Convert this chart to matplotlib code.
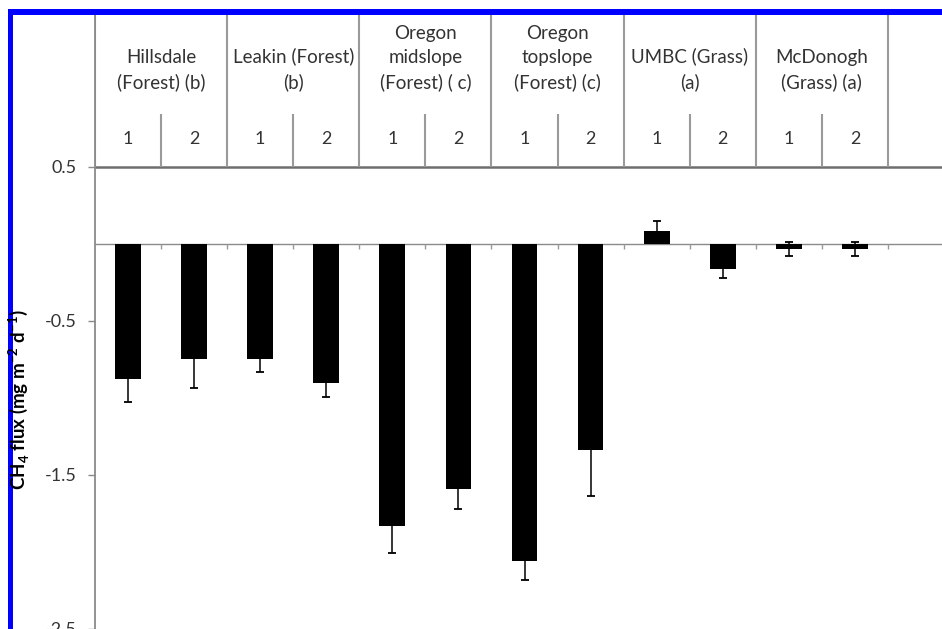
import matplotlib
matplotlib.use("Agg")
import matplotlib.pyplot as plt
from matplotlib.patches import Rectangle


plt.rcParams["font.family"] = ["Lato", "DejaVu Sans"]
plt.rcParams["axes.unicode_minus"] = False
plt.rcParams["mathtext.fontset"] = "custom"
plt.rcParams["mathtext.rm"] = "Lato:bold"
plt.rcParams["mathtext.bf"] = "Lato:bold"


SITES = [
    "Hillsdale\n(Forest) (b)",
    "Leakin (Forest)\n(b)",
    "Oregon\nmidslope\n(Forest) ( c)",
    "Oregon\ntopslope\n(Forest) (c)",
    "UMBC (Grass)\n(a)",
    "McDonogh\n(Grass) (a)",
]
PERIODS = ["1", "2"]

# mean CH4 flux per site and period, with standard errors
FLUX = [-0.881, -0.751, -0.751, -0.903, -1.835, -1.593,
        -2.063, -1.344, 0.083, -0.168, -0.036, -0.036]
ERR = [0.151, 0.19, 0.084, 0.095, 0.173, 0.132,
       0.125, 0.296, 0.063, 0.058, 0.043, 0.043]

YTICKS = [0.5, -0.5, -1.5, -2.5]
YLABEL = r"CH$_{4}$ flux (mg m$^{-2}$ d$^{-1}$)"

W, H = 942, 629
fig = plt.figure(figsize=(W / 100, H / 100), dpi=100)

slot = 66.08
n_slots = 13
top_px, zero_px, px_per_unit = 14, 243.5, 154
ymax = (zero_px - top_px) / px_per_unit
ymin = -2.7
ax_h = (ymax - ymin) * px_per_unit
ax = fig.add_axes([95 / W, 1 - (top_px + ax_h) / H, n_slots * slot / W, ax_h / H])
ax.set_xlim(0, n_slots)
ax.set_ylim(ymin, ymax)

xs = [i + 0.5 for i in range(len(FLUX))]
ax.bar(xs, FLUX, width=0.39, color="black", zorder=3)
ax.errorbar(xs, FLUX, yerr=ERR, fmt="none", ecolor="black",
            elinewidth=1.1, capsize=3, capthick=1.3, zorder=4)

# zero line with small slot ticks
ax.axhline(0, color="#8a8a8a", lw=1.0, zorder=2)
ax.vlines(range(1, n_slots + 1), -0.035, 0, color="#9a9a9a", lw=1.0)

# header table above 0.5
ax.axhline(0.5, color="#6e6e6e", lw=1.8, zorder=2)
for g in range(len(SITES) + 1):
    ax.vlines(2 * g, 0.5, ymax, color="#9a9a9a", lw=1.5)
for g in range(len(SITES)):
    ax.vlines(2 * g + 1, 0.5, 0.841, color="#9a9a9a", lw=1.5)
    ax.text(2 * g + 1, 1.01, SITES[g], ha="center", va="baseline",
            fontsize=13.5, color="#333333", linespacing=1.5)
    for k, p in enumerate(PERIODS):
        ax.text(2 * g + 0.5 + k, 0.679, p, ha="center", va="center",
                fontsize=13, color="#333333")

ax.set_yticks(YTICKS)
ax.set_yticklabels([f"{v:g}" for v in YTICKS], fontsize=13, color="#333333")
ax.set_xticks([])
ax.tick_params(axis="y", length=5, width=1, color="#8a8a8a", pad=8)
for side in ("top", "right", "bottom"):
    ax.spines[side].set_visible(False)
ax.spines["left"].set_color("#8a8a8a")
ax.spines["left"].set_linewidth(1.3)

fig.text(19 / W, 1 - 400 / H, YLABEL, rotation=90, ha="center", va="center",
         fontsize=13.5, fontweight="bold", color="black")

# blue frame on the left and top edges
fig.add_artist(Rectangle((8 / W, 0), 5 / W, (H - 9) / H, transform=fig.transFigure,
                         color="#0000ff", lw=0))
fig.add_artist(Rectangle((8 / W, 1 - 14.7 / H), (W - 8) / W, 5.7 / H,
                         transform=fig.transFigure, color="#0000ff", lw=0))

fig.savefig("out.png", dpi=100)
